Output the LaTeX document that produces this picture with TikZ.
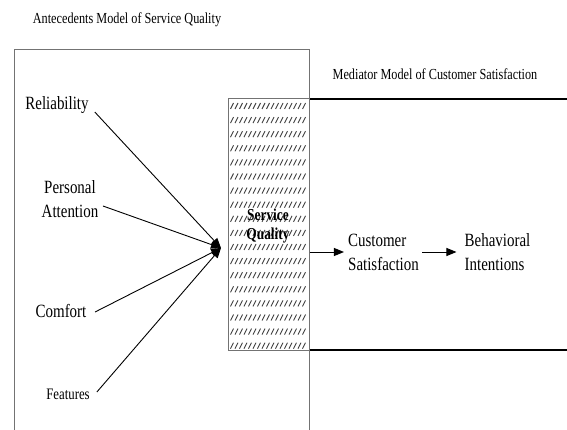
\documentclass[tikz,border=0pt]{standalone}
\usepackage{fontspec}
\setmainfont{Liberation Serif}[FakeStretch=0.8]
\usetikzlibrary{arrows.meta}
\begin{document}
\begin{tikzpicture}[x=1pt,y=-1pt,
  lbl/.style={font=\fontsize{18.7}{24}\selectfont, inner sep=0pt, align=center},
  ttl/.style={font=\fontsize{15.3}{18}\selectfont, inner sep=0pt},
  conn/.style={line width=0.9pt, -{Triangle[length=10pt,width=8pt]}},
  frame/.style={draw=black!55, line width=1pt},
  rline/.style={draw=black, line width=1.2pt},
  hatch/.style={draw=black!75, line width=0.9pt},
  ]
\useasboundingbox (0,0) rectangle (567,430);
% left frame (antecedents)
\draw[frame] (14,430) -- (14,50) -- (309,50) -- (309,430);
% right open box (mediator)
\draw[rline] (309,99) -- (567,99);
\draw[rline] (309,350) -- (567,350);
% hatched service quality box
\foreach \r in {0,...,17} {
  \foreach \c in {0,...,16} {
    \draw[hatch] (230.5+\c*4.5, 109+\r*14.1) -- ++(3,-6);
  }
}
\node[frame, draw, minimum width=81pt, minimum height=251pt, inner sep=0pt] (sq) at (268.5,224.5) {};
\node[font=\fontsize{16.7}{19}\selectfont\bfseries, inner sep=0pt, align=center] (sqt) at (268,226.5) {Service\\Quality};
% titles
\node[ttl] (t1) at (127,20) {Antecedents Model of Service Quality};
\node[ttl] (t2) at (435,74) {Mediator Model of Customer Satisfaction};
% antecedents
\node[lbl] (rel) at (57,105) {Reliability};
\node[lbl] (pa) at (70,199) {Personal\\Attention};
\node[lbl] (com) at (61,311) {Comfort};
\node[lbl, font=\fontsize{16}{18}\selectfont] (fea) at (68,394) {Features};
% outcomes
\node[lbl, align=left] (cs) at (383.5,252) {Customer\\Satisfaction};
\node[lbl, align=left] (bi) at (497.5,252) {Behavioral\\Intentions};
% converging arrows
\coordinate (c) at (221,248);
\draw[conn] ([xshift=6pt,yshift=-7pt]rel.east) -- (c);
\draw[conn] ([xshift=4.5pt,yshift=-7pt]pa.east) -- (c);
\draw[conn] ([xshift=8.5pt,yshift=-1pt]com.east) -- (c);
\draw[conn] ([xshift=7pt,yshift=2pt]fea.east) -- (c);
% chain
\draw[conn, shorten >=4pt] ([yshift=-27.5pt]sq.east) -- (cs.west);
\draw[conn, shorten <=3pt, shorten >=8pt] (cs.east) -- (bi.west);
\end{tikzpicture}
\end{document}
